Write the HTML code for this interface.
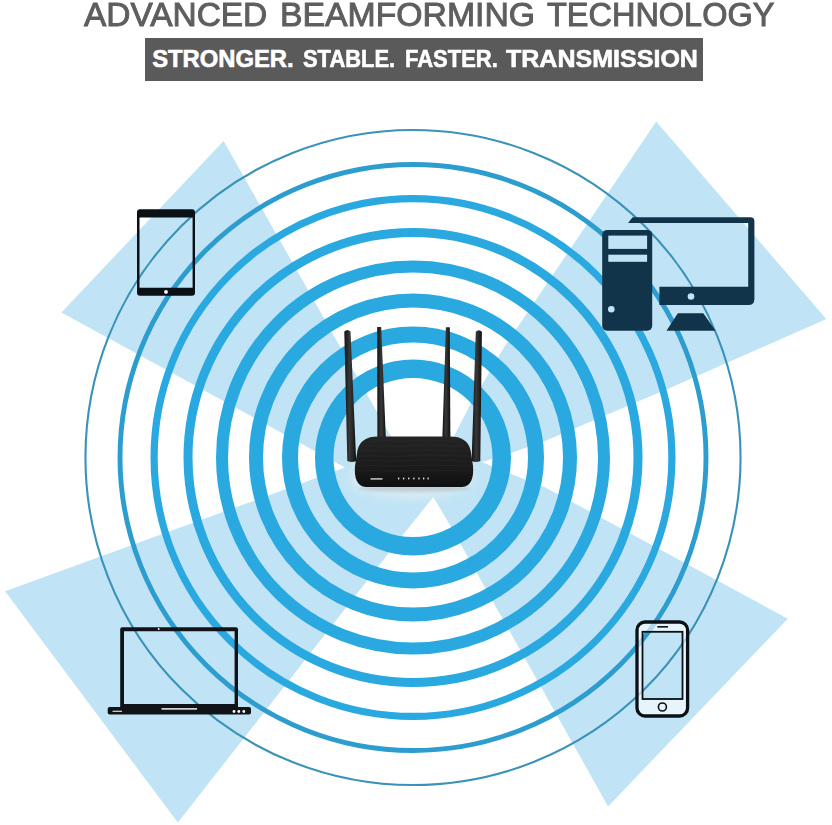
<!DOCTYPE html>
<html><head><meta charset="utf-8">
<style>
html,body{margin:0;padding:0;background:#fff;}
body{width:832px;height:825px;overflow:hidden;position:relative;font-family:"Liberation Sans",sans-serif;}
svg{position:absolute;left:0;top:0;}
.w{position:absolute;white-space:nowrap;line-height:1;transform-origin:0 0;}
.t{top:-3.2px;font-size:34px;color:#5e5e5e;-webkit-text-stroke:1px #5e5e5e;}
.b{top:46.9px;font-size:23.8px;font-weight:bold;color:#fff;-webkit-text-stroke:0.6px #fff;}
.banner{position:absolute;left:145px;top:37.7px;width:558px;height:42.9px;background:#5a5a5a;}
</style></head>
<body>
<svg width="832" height="825" viewBox="0 0 832 825">
  <g fill="#c0e4f5">
    <polygon points="61.4,312.5 223.6,141 415,479 453.6,437 456.7,431 470.5,404 505.2,345.5 656.2,121.6 826.3,319.1 668.7,388.5 545,441 505,455 482,462 505,471.7 545,487.3 787.8,618.7 608.1,806.4 449.1,523.6 433.3,497 404.2,533.3 177.8,822.6 5.1,591.3 345,467.5"/>
  </g>
  <g fill="none" stroke="#2aa8e0">
    <circle cx="413" cy="457.5" r="327.55" stroke-width="2.1" stroke="#3a92b9"/>
    <circle cx="413" cy="457.5" r="293" stroke-width="4.9" stroke="#2d9dd0"/>
    <circle cx="413" cy="457.5" r="258.9" stroke-width="7.2"/>
    <circle cx="413" cy="457.5" r="225" stroke-width="9"/>
    <circle cx="413" cy="457.5" r="191" stroke-width="12"/>
    <circle cx="413" cy="457.5" r="157" stroke-width="14"/>
    <circle cx="413" cy="457.5" r="123" stroke-width="16"/>
    <circle cx="413" cy="457.5" r="88.75" stroke-width="18.5"/>
  </g>
  <!-- tablet -->
  <g>
    <path fill="#0b0f16" fill-rule="evenodd" d="M140,209.2 H192 Q195,209.2 195,212.2 V292.7 Q195,295.7 192,295.7 H140 Q137,295.7 137,292.7 V212.2 Q137,209.2 140,209.2 Z M139.5,217.4 V287.8 H192.6 V217.4 Z"/>
    <circle cx="166" cy="291.9" r="1.9" fill="#fff"/>
  </g>
  <!-- desktop -->
  <g fill="#12344a">
    <rect x="602.2" y="229.9" width="50" height="100.8" rx="5"/>
    <path d="M632.6,217.3 H750.4 Q754.4,217.3 754.4,221.3 V299 Q754.4,305.1 748.4,305.1 H659.4 V286.7 H748.2 V223 H628.1 Z"/>
    <polygon points="677.8,313.3 703.3,313.3 715.6,330.7 666.5,330.7"/>
  </g>
  <g fill="#c0e4f5">
    <rect x="608.3" y="235.6" width="38.8" height="13.3"/>
    <rect x="608.3" y="254.7" width="38.8" height="7.1"/>
    <circle cx="611.3" cy="309.2" r="3.3"/>
    <circle cx="691" cy="296.5" r="3.3"/>
  </g>
  <!-- laptop -->
  <g fill="#101318">
    <path fill-rule="evenodd" d="M122.2,627.3 H236 Q238,627.3 238,629.3 V707.5 H120.2 V629.3 Q120.2,627.3 122.2,627.3 Z M124,631.2 V704 H234.6 V631.2 Z"/>
    <rect x="107.7" y="707" width="143.3" height="7.6" rx="2"/>
  </g>
  <g fill="#fff">
    <rect x="161.5" y="708.2" width="35.6" height="1.4"/>
    <rect x="112.5" y="710.7" width="9.5" height="1.2" fill="#ddd"/>
    <circle cx="158.7" cy="629" r="0.9"/>
    <circle cx="234" cy="711.5" r="1.4"/>
    <circle cx="238.8" cy="711.5" r="1.4"/>
    <circle cx="243.8" cy="711.5" r="1.4"/>
  </g>
  <!-- phone -->
  <g>
    <path fill="#ffffff" fill-opacity="0.62" fill-rule="evenodd" d="M645,622 H679.6 Q687.6,622 687.6,630 V708 Q687.6,716 679.6,716 H645 Q637,716 637,708 V630 Q637,622 645,622 Z M642.5,631.8 V699 H682.5 V631.8 Z"/>
    <rect x="637" y="622" width="50.6" height="94" rx="8" fill="none" stroke="#0b0f16" stroke-width="3.3"/>
    <rect x="642.5" y="631.8" width="40" height="67.2" fill="none" stroke="#0b0f16" stroke-width="1.8"/>
    <rect x="657.3" y="626" width="10.7" height="1.6" fill="#0b0f16"/>
    <circle cx="662.4" cy="707" r="4" fill="none" stroke="#0b0f16" stroke-width="1.6"/>
  </g>
  <!-- router -->
  <defs>
    <linearGradient id="ant" x1="0" x2="1" y1="0" y2="0">
      <stop offset="0" stop-color="#121212"/>
      <stop offset="0.45" stop-color="#383838"/>
      <stop offset="1" stop-color="#101010"/>
    </linearGradient>
    <linearGradient id="body" x1="0" x2="0" y1="0" y2="1">
      <stop offset="0" stop-color="#242424"/>
      <stop offset="0.65" stop-color="#1a1a1a"/>
      <stop offset="1" stop-color="#101010"/>
    </linearGradient>
    <filter id="blur3" x="-50%" y="-50%" width="200%" height="200%"><feGaussianBlur stdDeviation="3"/></filter>
    <filter id="blur4" x="-50%" y="-50%" width="200%" height="200%"><feGaussianBlur stdDeviation="5"/></filter>
    <filter id="blur2" x="-50%" y="-50%" width="200%" height="200%"><feGaussianBlur stdDeviation="1.5"/></filter>
    <filter id="blur1" x="-50%" y="-50%" width="200%" height="200%"><feGaussianBlur stdDeviation="0.5"/></filter>
  </defs>
  <g>
    <ellipse cx="412" cy="478" rx="62" ry="20" fill="#e6eef2" opacity="0.75" filter="url(#blur4)"/>
    <ellipse cx="414" cy="488.5" rx="56" ry="3.5" fill="#8c9ca4" opacity="0.35" filter="url(#blur2)"/>
    <path d="M344.3,331.5 Q347.4,328.5 350.5,331.5 L356.2,461 Q351.8,463 347.3,461 Z" fill="url(#ant)"/>
    <path d="M377.2,327 L381.2,327 L385.9,440 L377.4,440 Z" fill="url(#ant)"/>
    <path d="M445.9,327.2 L449.8,327.2 L450.4,440 L442.3,440 Z" fill="url(#ant)"/>
    <path d="M475.8,331.7 Q478.9,328.7 481.9,331.7 L480.3,461 Q476,463 471.6,461 Z" fill="url(#ant)"/>
    <path d="M378,436.5 L450,436.5 C462,436.5 468,441 470.5,450 L473,466 C474,478 471,486.5 462,487 L366,487 C357,486.5 354,478 355,466 L357.5,450 C360,441 366,436.5 378,436.5 Z" fill="url(#body)"/>
    <g stroke="#3a3a3a" stroke-width="0.6" opacity="0.45" fill="none" filter="url(#blur1)">
      <path d="M372,441 C390,440 400,442 414,440.5 C428,439 440,441 456,441"/>
      <path d="M364,446 C380,445 395,447.5 412,445.5 C430,444 448,446.5 464,446"/>
      <path d="M360,451 C378,450 392,452 410,450.5 C428,449 448,451.5 468,451"/>
      <path d="M358,456 C375,455 395,457.5 414,455.5 C432,454 452,456.5 470,456"/>
      <path d="M357,461 C376,460 394,462 412,460.5 C430,459 450,461.5 471,461"/>
      <path d="M356.5,466 C376,465 396,467.5 416,465.5 C434,464 452,466.5 472,466"/>
      <path d="M357,471 C376,470 396,472 416,470.5 C434,469 452,471.5 472,471"/>
    </g>
    <rect x="370.5" y="478" width="12" height="1.8" fill="#cfcfcf" opacity="0.8"/>
    <g fill="#e8e8e8">
      <rect x="398" y="477.6" width="1.3" height="1.8"/><rect x="403" y="477.6" width="1.3" height="1.8"/><rect x="408.1" y="477.6" width="1.3" height="1.8"/><rect x="413.2" y="477.6" width="1.3" height="1.8"/><rect x="418.3" y="477.6" width="1.3" height="1.8"/><rect x="423" y="477.6" width="1.3" height="1.8"/><rect x="427.5" y="477.6" width="1.3" height="1.8"/>
    </g>
  </g>
</svg>
<div class="w t" style="left:84.4px;transform:scaleX(0.983)">ADVANCED</div>
<div class="w t" style="left:280.4px;transform:scaleX(0.993)">BEAMFORMING</div>
<div class="w t" style="left:547.1px;transform:scaleX(0.955)">TECHNOLOGY</div>
<div class="banner"></div>
<div class="w b" style="left:152.2px;transform:scaleX(1.0)">STRONGER.</div>
<div class="w b" style="left:302.7px;transform:scaleX(0.921)">STABLE.</div>
<div class="w b" style="left:404.6px;transform:scaleX(0.924)">FASTER.</div>
<div class="w b" style="left:506px;transform:scaleX(1.052)">TRANSMISSION</div>
</body></html>
